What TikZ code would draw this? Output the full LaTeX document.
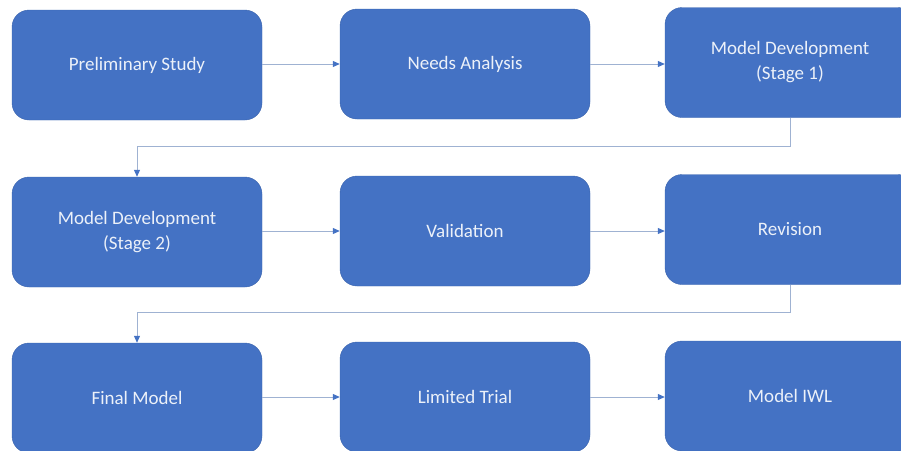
\documentclass[tikz,border=0pt]{standalone}
\usepackage{fontspec}
\setmainfont{Carlito}
\usetikzlibrary{arrows.meta}
\definecolor{boxblue}{HTML}{4472C4}
\definecolor{boxedge}{HTML}{3B64AD}
\definecolor{linkgrey}{HTML}{9FB2D2}
\tikzset{
    stage/.style={draw=boxedge, fill=boxblue, rounded corners=17pt,
        minimum width=250pt, minimum height=110pt, align=center,
        text=white!90!boxblue, font=\fontsize{19}{25}\selectfont},
    link/.style={draw=linkgrey, line width=1pt,
        -{Triangle[length=7pt,width=6pt,color=boxblue]}}
}
\begin{document}
\begin{tikzpicture}[x=1pt,y=-1pt]
    \useasboundingbox (0,0) rectangle (901,450);

    \node[stage] (S1) at (137,65) {Preliminary Study};
    \node[stage] (S2) at (465,64) {Needs Analysis};
    \node[stage] (S3) at (790,62.5) {Model Development\\(Stage 1)};

    \node[stage] (S4) at (137,232) {Model Development\\(Stage 2)};
    \node[stage] (S5) at (465,231) {Validation};
    \node[stage] (S6) at (790,229.5) {Revision};

    \node[stage] (S7) at (137,398) {Final Model};
    \node[stage] (S8) at (465,397) {Limited Trial};
    \node[stage] (S9) at (790,396) {Model IWL};

    \draw[link] (S2.west -| S1.east)--(S2.west);
    \draw[link] (S2.east)--(S2.east -| S3.west);

    \draw[link] (S3.south) -- ++(0,29) -| (S4.north);

    \draw[link] (S5.west -| S4.east)--(S5.west);
    \draw[link] (S5.east)--(S5.east -| S6.west);

    \draw[link] (S6.south) -- ++(0,28) -| (S7.north);

    \draw[link] (S8.west -| S7.east)--(S8.west);
    \draw[link] (S8.east)--(S8.east -| S9.west);

\end{tikzpicture}
\end{document}
